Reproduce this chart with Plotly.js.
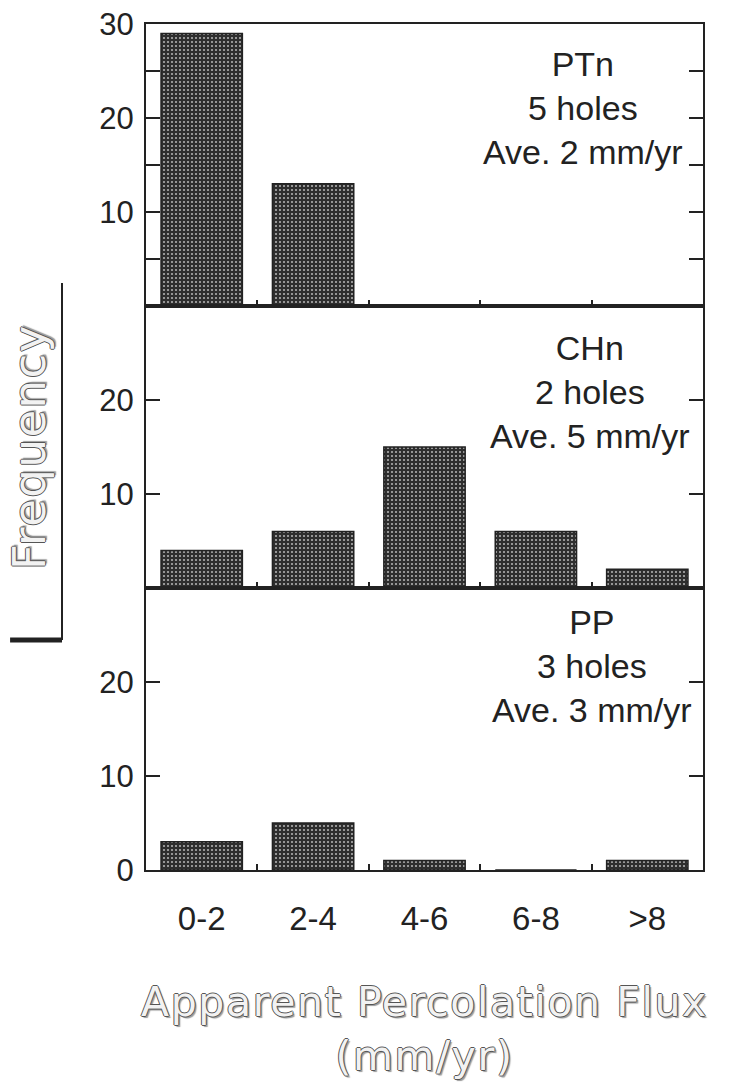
<!DOCTYPE html>
<html>
<head>
<meta charset="utf-8">
<script src="https://cdn.plot.ly/plotly-3.0.1.min.js"></script>
<style>
html,body{margin:0;padding:0;background:#fff;}
#chart{width:734px;height:1086px;}
text.x3title{letter-spacing:1.6px;}
text.y2title{letter-spacing:1.5px;}
</style>
</head>
<body>
<div id="chart"></div>
<script>
// ---- data ----
const categories = ['0-2', '2-4', '4-6', '6-8', '>8'];
const ptnFreq = [29, 13, 0, 0, 0];
const chnFreq = [4, 6, 15, 6, 2];
const ppFreq  = [3, 5, 1, 0, 1];
const panelNames = ['PTn', 'CHn', 'PP'];
const panelHoles = [5, 2, 3];
const panelAve   = [2, 5, 3];
const topTickVals = [5, 10, 15, 20, 25, 30];
const topTickText = ['', '10', '', '20', '', '30'];
const midTickVals = [10, 20];
const botTickVals = [0, 10, 20];

const ink = '#222222';
const yTickFont = {family: 'Liberation Sans, Arial, sans-serif', size: 31, color: ink};
const xTickFont = {family: 'Liberation Sans, Arial, sans-serif', size: 33, color: ink};
const outlineShadow = '1px 0 0 #555, -1px 0 0 #555, 0 1px 0 #555, 0 -1px 0 #555, 2px 2px 1px #9a9a9a';

function barTrace(vals, xa, ya) {
  return {
    type: 'bar', x: categories, y: vals, xaxis: xa, yaxis: ya,
    marker: {
      color: '#3a3a3a',
      line: {color: ink, width: 1.5},
      pattern: {shape: '.', fgcolor: '#b0b0b0', bgcolor: '#2e2e2e', size: 4, solidity: 0.22}
    },
    hoverinfo: 'x+y', showlegend: false
  };
}

const data = [
  barTrace(ptnFreq, 'x', 'y'),
  barTrace(chnFreq, 'x2', 'y2'),
  barTrace(ppFreq, 'x3', 'y3')
];

function xAxis(anchor, showLabels) {
  return {
    anchor: anchor, domain: [0, 1], type: 'category', range: [-0.5, 4.5],
    tickson: 'boundaries', ticks: 'inside', ticklen: 6, tickwidth: 2, tickcolor: ink,
    showline: true, linewidth: 2, linecolor: ink, mirror: true,
    showgrid: false, zeroline: false, showticklabels: showLabels,
    tickfont: xTickFont, ticklabelstandoff: 18, fixedrange: true
  };
}
function yAxis(anchor, domain, vals, text) {
  const ax = {
    anchor: anchor, domain: domain, range: [0, 30], tickmode: 'array', tickvals: vals,
    ticks: 'inside', ticklen: 14, tickwidth: 2, tickcolor: ink,
    showline: true, linewidth: 2, linecolor: ink, mirror: 'ticks',
    showgrid: false, zeroline: false, tickfont: yTickFont, ticklabelstandoff: 4, fixedrange: true
  };
  if (text) ax.ticktext = text;
  return ax;
}

const annPos = [[0.785, 0.901], [0.797, 0.565], [0.801, 0.241]];
const annotations = panelNames.map((n, i) => ({
  xref: 'paper', yref: 'paper', x: annPos[i][0], y: annPos[i][1],
  xanchor: 'center', yanchor: 'middle', showarrow: false, align: 'center',
  text: n + '<br>' + panelHoles[i] + ' holes<br>Ave. ' + panelAve[i] + ' mm/yr',
  font: {family: 'Liberation Sans, Arial, sans-serif', size: 34, color: ink}
}));

const layout = {
  width: 734, height: 1086,
  margin: {l: 146, r: 31, t: 24, b: 216},
  paper_bgcolor: '#fff', plot_bgcolor: '#fff',
  bargap: 0.27, showlegend: false,
  xaxis: xAxis('y', false),
  xaxis2: xAxis('y2', false),
  xaxis3: Object.assign(xAxis('y3', true), {
    title: {text: 'Apparent Percolation Flux<br>(mm/yr)', standoff: 52,
      font: {family: 'DejaVu Sans, sans-serif', size: 41, color: '#f2f2f2', shadow: outlineShadow}}
  }),
  yaxis: yAxis('x', [2/3, 1], topTickVals, topTickText),
  yaxis2: Object.assign(yAxis('x2', [1/3, 2/3], midTickVals), {
    title: {text: 'Frequency', standoff: 40,
      font: {family: 'DejaVu Sans, sans-serif', size: 45, color: '#f2f2f2', shadow: outlineShadow}}
  }),
  yaxis3: yAxis('x3', [0, 1/3], botTickVals),
  annotations: annotations,
  shapes: [
    {type: 'line', xref: 'paper', yref: 'paper', x0: -0.1508, x1: -0.1508, y0: 0.694, y1: 0.272,
     line: {color: ink, width: 2}},
    {type: 'line', xref: 'paper', yref: 'paper', x0: -0.244, x1: -0.1508, y0: 0.272, y1: 0.272,
     line: {color: ink, width: 5}}
  ]
};

Plotly.newPlot('chart', data, layout, {staticPlot: true});
</script>
</body>
</html>
